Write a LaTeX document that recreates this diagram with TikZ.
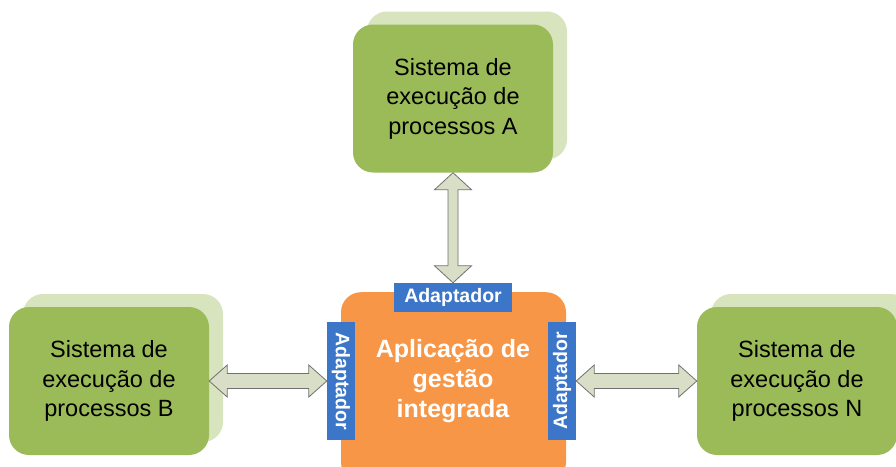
\documentclass[tikz,border=0pt]{standalone}
\usepackage{fontspec}
\setmainfont{Liberation Sans}
\usetikzlibrary{calc}
\definecolor{grnF}{HTML}{9BBB59}
\definecolor{grnB}{HTML}{D7E4BD}
\definecolor{orng}{HTML}{F79646}
\definecolor{blu}{HTML}{3C76C8}
\definecolor{arrF}{HTML}{D9DFC6}
\definecolor{arrD}{HTML}{707070}
\begin{document}
\begin{tikzpicture}[x=1pt,y=-1pt,
  sysbox/.style={rectangle, rounded corners=20pt, fill=grnF, minimum width=200pt, minimum height=148pt, align=center, inner sep=0pt, font=\fontsize{23.5}{29.5}\selectfont},
  sysback/.style={rectangle, rounded corners=20pt, fill=grnB, minimum width=200pt, minimum height=148pt, inner sep=0pt},
  adapt/.style={rectangle, fill=blu, text=white, inner sep=0pt, font=\bfseries\fontsize{19.5}{22}\selectfont},
  dblarrow/.style={fill=arrF, draw=arrD, line width=0.8pt, line join=miter}
]
\clip (0,0) rectangle (896,466);
% systems
\node[sysback] (Ab) at (467,85.5) {};
\node[sysbox] (A) at (453,98.5) {Sistema de\\execução de\\processos A};
\node[sysback] (Bb) at (123,368) {};
\node[sysbox] (B) at (109,381) {Sistema de\\execução de\\processos B};
\node[sysback] (Nb) at (811,368) {};
\node[sysbox] (N) at (797,381) {Sistema de\\execução de\\processos N};
% application
\node[rectangle, rounded corners=20pt, fill=orng, minimum width=225pt, minimum height=190pt, inner sep=0pt, anchor=north] (app) at (453.5,292) {};
\node[text=white, align=center, font=\bfseries\fontsize{25}{30}\selectfont] (appt) at (453,381) {Aplicação de\\gestão\\integrada};
% adapters
\node[adapt, minimum width=118pt, minimum height=29pt] (adT) at (453,297.5) {Adaptador};
\node[adapt, minimum width=118pt, minimum height=28pt, rotate=-90] (adL) at (341,381) {Adaptador};
\node[adapt, minimum width=118pt, minimum height=28pt, rotate=90] (adR) at (562,381) {Adaptador};
% arrows
\draw[dblarrow] let \p1=(A.south), \p2=(adT.north) in
  (\x1,\y1) -- (\x1+18.5pt,\y1-17pt) -- (\x1+5pt,\y1-17pt) -- (\x1+5pt,\y2+17pt) -- (\x1+18.5pt,\y2+17pt)
  -- (\x1,\y2) -- (\x1-18.5pt,\y2+17pt) -- (\x1-5pt,\y2+17pt) -- (\x1-5pt,\y1-17pt) -- (\x1-18.5pt,\y1-17pt) -- cycle;
\draw[dblarrow] let \p1=(B.east), \p2=(adL.south) in
  (\x1,\y1) -- (\x1+18pt,\y1+16pt) -- (\x1+18pt,\y1+7.5pt) -- (\x2-18pt,\y1+7.5pt) -- (\x2-18pt,\y1+16pt)
  -- (\x2,\y1) -- (\x2-18pt,\y1-16pt) -- (\x2-18pt,\y1-7.5pt) -- (\x1+18pt,\y1-7.5pt) -- (\x1+18pt,\y1-16pt) -- cycle;
\draw[dblarrow] let \p1=(adR.south), \p2=(N.west) in
  (\x1,\y1) -- (\x1+18pt,\y1+16pt) -- (\x1+18pt,\y1+7.5pt) -- (\x2-18pt,\y1+7.5pt) -- (\x2-18pt,\y1+16pt)
  -- (\x2,\y1) -- (\x2-18pt,\y1-16pt) -- (\x2-18pt,\y1-7.5pt) -- (\x1+18pt,\y1-7.5pt) -- (\x1+18pt,\y1-16pt) -- cycle;
\end{tikzpicture}
\end{document}
